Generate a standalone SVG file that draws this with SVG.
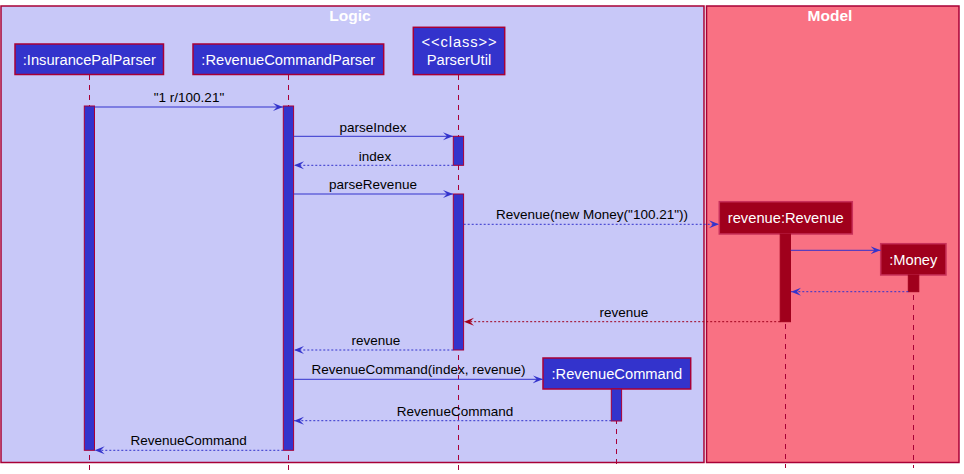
<svg xmlns="http://www.w3.org/2000/svg" width="964" height="474" viewBox="0 0 964 474">
<defs>
<style>
.box-logic{fill:#C8C8F8;stroke:#A80036;stroke-width:1.5}
.box-model{fill:#F97183;stroke:#A80036;stroke-width:1.5}
.title{font-family:"Liberation Sans",Arial,sans-serif;font-weight:bold;font-size:15.5px;fill:#FFFFFF;text-anchor:middle}
.life{stroke:#A80036;stroke-width:1;stroke-dasharray:5,5;fill:none}
.pb{fill:#3333CC;stroke:#A80036;stroke-width:1.5}
.pr{fill:#A0001C;stroke:#C8305A;stroke-width:1.5}
.pt{font-family:"Liberation Sans",Arial,sans-serif;font-size:14.7px;fill:#FFFFFF;text-anchor:middle}
.ab{fill:#3333CC;stroke:#A80036;stroke-width:1}
.ar{fill:#A0001C;stroke:#A0001C;stroke-width:1}
.msg{stroke:#3333CC;stroke-width:1;fill:none}
.msgd{stroke:#3333CC;stroke-width:1;stroke-dasharray:2,2;fill:none}
.msgr{stroke:#A0001C;stroke-width:1;stroke-dasharray:2,2;fill:none}
.ml{font-family:"Liberation Sans",Arial,sans-serif;font-size:13.5px;fill:#000000;text-anchor:middle}
</style>
<marker id="hb" markerUnits="userSpaceOnUse" markerWidth="11" markerHeight="10" refX="10" refY="5" orient="auto">
<path d="M0,1 L10,5 L0,9 L4,5 Z" fill="#3333CC"/>
</marker>
<marker id="hr" markerUnits="userSpaceOnUse" markerWidth="11" markerHeight="10" refX="10" refY="5" orient="auto">
<path d="M0,1 L10,5 L0,9 L4,5 Z" fill="#A0001C"/>
</marker>
</defs>
<rect width="964" height="474" fill="#FFFFFF"/>
<g id="box-logic">
<rect class="box-logic" x="1" y="6" width="703" height="456.5"/>
<text class="title" x="350" y="21">Logic</text>
</g>
<g id="box-model">
<rect class="box-model" x="706.5" y="6" width="252.5" height="456.5"/>
<text class="title" x="830" y="21">Model</text>
</g>
<g id="lifelines">
<line class="life" x1="89.5" y1="75" x2="89.5" y2="470"/>
<line class="life" x1="288.5" y1="75" x2="288.5" y2="470"/>
<line class="life" x1="458.5" y1="75" x2="458.5" y2="470"/>
<line class="life" x1="616.5" y1="389" x2="616.5" y2="468"/>
<line class="life" x1="785.5" y1="234" x2="785.5" y2="468"/>
<line class="life" x1="913.5" y1="275" x2="913.5" y2="468"/>
</g>
<g id="InsurancePalParser">
<rect class="pb" x="15" y="44" width="148.5" height="30.5"/>
<text class="pt" x="89.3" y="64.5">:InsurancePalParser</text>
<rect class="ab" x="84.3" y="106" width="10.2" height="344.3"/>
</g>
<g id="RevenueCommandParser">
<rect class="pb" x="193" y="44" width="190.7" height="30.5"/>
<text class="pt" x="288.3" y="64.5">:RevenueCommandParser</text>
<rect class="ab" x="283.3" y="106" width="10.3" height="344.3"/>
</g>
<g id="ParserUtil">
<rect class="pb" x="413.3" y="27.3" width="91.4" height="47.3"/>
<text class="pt" x="459" y="47.3" textLength="75" lengthAdjust="spacing">&lt;&lt;class&gt;&gt;</text>
<text class="pt" x="459" y="64.8">ParserUtil</text>
<rect class="ab" x="453.3" y="136.3" width="10.3" height="29"/>
<rect class="ab" x="453.3" y="194" width="10.3" height="156"/>
</g>
<g id="RevenueCommand">
<rect class="pb" x="543" y="358" width="147.7" height="31"/>
<text class="pt" x="616.8" y="378.5">:RevenueCommand</text>
<rect class="ab" x="611.3" y="389" width="10.3" height="32"/>
</g>
<g id="Revenue">
<rect class="pr" x="719.3" y="201.7" width="133" height="32.3"/>
<text class="pt" x="785.8" y="222.5">revenue:Revenue</text>
<rect class="ar" x="780.2" y="234" width="10.3" height="87.7"/>
</g>
<g id="Money">
<rect class="pr" x="880.7" y="243.7" width="65.3" height="31.3"/>
<text class="pt" x="913.3" y="265">:Money</text>
<rect class="ar" x="908.3" y="275" width="10.5" height="16.7"/>
</g>
<g id="connectors">
<line class="msg" x1="94.5" y1="107" x2="283" y2="107" marker-end="url(#hb)"/>
<text class="ml" x="189" y="101.5">"1 r/100.21"</text>
<line class="msg" x1="293.7" y1="136.3" x2="453" y2="136.3" marker-end="url(#hb)"/>
<text class="ml" x="373" y="131.5">parseIndex</text>
<line class="msgd" x1="453.3" y1="165.3" x2="294" y2="165.3" marker-end="url(#hb)"/>
<text class="ml" x="375" y="160.5">index</text>
<line class="msg" x1="293.7" y1="194" x2="453" y2="194" marker-end="url(#hb)"/>
<text class="ml" x="373" y="189.2">parseRevenue</text>
<line class="msgd" x1="463.7" y1="224.3" x2="719" y2="224.3" marker-end="url(#hb)"/>
<text class="ml" x="592" y="218.5">Revenue(new Money("100.21"))</text>
<line class="msg" x1="790.7" y1="250.3" x2="880.5" y2="250.3" marker-end="url(#hb)"/>
<line class="msgd" x1="908.3" y1="291.7" x2="791" y2="291.7" marker-end="url(#hb)"/>
<line class="msgr" x1="780.2" y1="321.7" x2="464" y2="321.7" marker-end="url(#hr)"/>
<text class="ml" x="624" y="316.5">revenue</text>
<line class="msgd" x1="453.3" y1="350" x2="294" y2="350" marker-end="url(#hb)"/>
<text class="ml" x="376" y="345">revenue</text>
<line class="msg" x1="293.7" y1="379.3" x2="542.8" y2="379.3" marker-end="url(#hb)"/>
<text class="ml" x="418.5" y="374.3">RevenueCommand(index, revenue)</text>
<line class="msgd" x1="611.3" y1="420.7" x2="294" y2="420.7" marker-end="url(#hb)"/>
<text class="ml" x="455" y="415.7">RevenueCommand</text>
<line class="msgd" x1="283.3" y1="450.3" x2="94.7" y2="450.3" marker-end="url(#hb)"/>
<text class="ml" x="188.7" y="445.2">RevenueCommand</text>
</g>
</svg>
